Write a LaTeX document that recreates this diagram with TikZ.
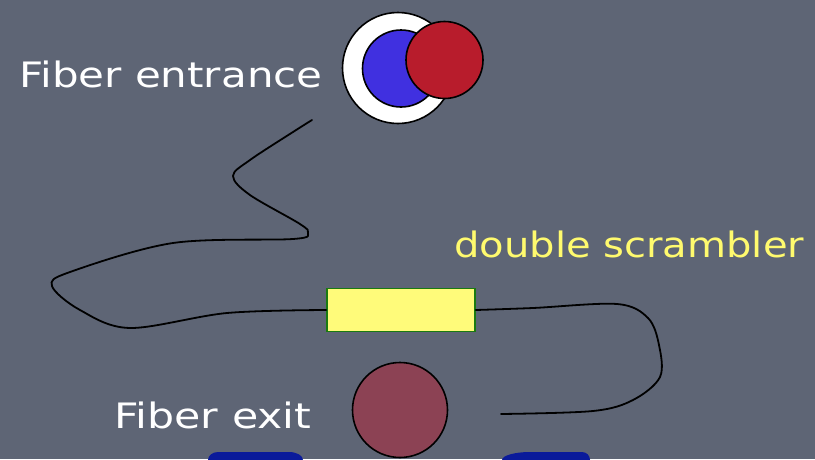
\documentclass[tikz,border=0pt]{standalone}
\usepackage{fontspec}
\setmainfont{DejaVu Sans}
\definecolor{slate}{RGB}{94,101,117}
\definecolor{ringblue}{RGB}{64,48,224}
\definecolor{corered}{RGB}{184,28,44}
\definecolor{exitwine}{RGB}{140,66,84}
\definecolor{boxyellow}{RGB}{255,251,122}
\definecolor{boxgreen}{RGB}{26,122,16}
\definecolor{labelyellow}{RGB}{255,250,110}
\definecolor{padblue}{RGB}{10,26,154}
\tikzset{
  disc/.style={circle, draw=black, line width=1.6pt, inner sep=0pt},
  label text/.style={anchor=base west, inner sep=0pt, font=\fontsize{35}{40}\selectfont},
  wire/.style={draw=black, line width=1.8pt, line cap=round, line join=round},
}
\newcommand{\widetext}[2]{\scalebox{#1}[1]{#2}}
% flat-topped pad: left x, right x, left corner width, right corner width
\newcommand{\padshape}[4]{%
  \fill[padblue] (#1,470) -- (#1,460)
    arc[start angle=180, end angle=90, x radius=#3pt, y radius=8pt]
    -- ({#2-#4},452)
    arc[start angle=90, end angle=0, x radius=#4pt, y radius=8pt]
    -- (#2,470) -- cycle;}
\begin{document}
\begin{tikzpicture}[x=1pt,y=-1pt]
  % board
  \fill[slate] (0,0) rectangle (815,459);
  \useasboundingbox (0,0) rectangle (815,459);
  \clip (0,0) rectangle (815,459);

  % blue pads peeking in at the bottom edge
  \padshape{208}{303}{10}{14}
  \padshape{502}{590}{28}{8}

  % fibre entrance: cladding ring, blue core, red spot
  \node[disc, fill=white, minimum size=111pt] (ring) at (398,68) {};
  \node[disc, fill=ringblue, minimum size=77pt] (core) at (401,68.5) {};
  \node[disc, fill=corered, minimum size=77pt] (spot) at (444.5,60) {};

  % double scrambler box
  \node[draw=boxgreen, line width=1.6pt, fill=boxyellow, minimum width=148pt,
        minimum height=43pt, inner sep=0pt] (scr) at (401,310) {};

  % fibre exit
  \node[disc, fill=exitwine, minimum size=95pt] (exit) at (400,410) {};

  % fibre run
  \coordinate (fibstart) at (312,120);
  \coordinate (fibend) at (501,414);
  \draw[wire] plot[smooth, tension=0.55] coordinates {
    (fibstart) (293,132) (250,160) (233,176) (250,195) (300,224) (308,233)
    (293,239) (173,243) (70,272) (52,286) (80,310) (130,328) (227,313) (scr.west)};
  \draw[wire] plot[smooth, tension=0.55] coordinates {
    (scr.east) (533,308) (617,304) (648,318) (659,345) (660,377) (633,400)
    (593,411) (fibend)};

  % labels
  \node[label text, text=white] (entlabel) at (19,87) {\widetext{1.2}{Fiber entrance}};
  \node[label text, text=labelyellow] (scrlabel) at (454,257) {\widetext{1.145}{double scrambler}};
  \node[label text, text=white] (exitlabel) at (114,428) {\widetext{1.22}{Fiber exit}};
\end{tikzpicture}
\end{document}
